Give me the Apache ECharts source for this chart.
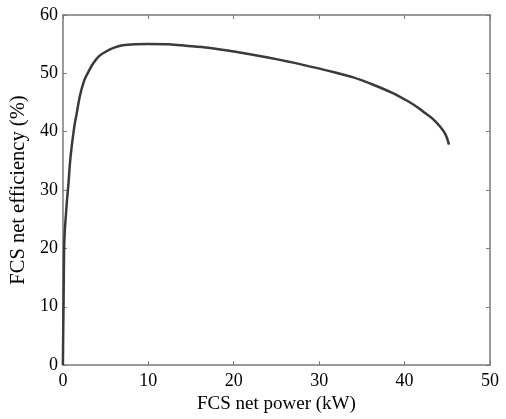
<!DOCTYPE html>
<html>
<head>
<meta charset="utf-8">
<script src="https://cdn.jsdelivr.net/npm/echarts@6/dist/echarts.min.js"></script>
<style>
  html, body { margin: 0; padding: 0; background: #fff; }
  #chart { width: 506px; height: 419px; }
</style>
</head>
<body>
<div id="chart"></div>
<script>
// Fuel cell system net power (kW) and the matching net efficiency (%)
const netPower = [0, 0.04, 0.08, 0.14, 0.22, 0.33, 0.48, 0.64, 0.85, 1.1, 1.35, 1.6, 2.0, 2.5, 3.0, 3.5, 4.2, 5.0, 6.0, 7.0, 8.4, 10, 12.4, 14.4, 17, 20.2, 24, 28, 32, 34, 36.4, 38.5, 40.3, 41.5, 42.3, 43.3, 44.2, 44.8, 45.2];
const netEfficiency = [0, 6, 11.3, 19.7, 23, 25.3, 28.3, 30.9, 35, 38.3, 41, 43, 46.2, 48.8, 50.3, 51.6, 52.9, 53.7, 54.4, 54.8, 55.0, 55.05, 55.0, 54.75, 54.4, 53.7, 52.7, 51.5, 50.1, 49.3, 48.0, 46.7, 45.3, 44.2, 43.3, 42.2, 40.8, 39.5, 37.8];

const xTicks = [0, 10, 20, 30, 40, 50];
const yTicks = [0, 10, 20, 30, 40, 50, 60];

const serif = 'Liberation Serif, Times New Roman, serif';
const frame = '#7a7a7a';

const chart = echarts.init(document.getElementById('chart'));

// every side of the box carries inward ticks; only bottom/left get labels
const boxAxis = (extra) => Object.assign({
  type: 'value',
  axisLine: { show: true, onZero: false, lineStyle: { color: frame, width: 1.5 } },
  axisTick: { show: true, inside: true, length: 4, lineStyle: { color: frame } },
  splitLine: { show: false },
  axisLabel: { show: false }
}, extra);

chart.setOption({
  animation: false,
  backgroundColor: '#fff',
  grid: { left: 59.5, right: 16, top: 15, bottom: 49.5, containLabel: false },
  xAxis: [
    boxAxis({
      position: 'bottom',
      min: xTicks[0], max: xTicks[xTicks.length - 1], interval: 10,
      name: 'FCS net power (kW)',
      nameLocation: 'middle',
      nameGap: 28,
      nameTextStyle: { fontFamily: serif, fontSize: 19, color: '#000' },
      axisLabel: { show: true, margin: 7, fontFamily: serif, fontSize: 18, color: '#000' }
    }),
    boxAxis({
      position: 'top',
      min: xTicks[0], max: xTicks[xTicks.length - 1], interval: 10
    })
  ],
  yAxis: [
    boxAxis({
      position: 'left',
      min: yTicks[0], max: yTicks[yTicks.length - 1], interval: 10,
      name: 'FCS net efficiency (%)',
      nameLocation: 'middle',
      nameGap: 27,
      nameTextStyle: { fontFamily: serif, fontSize: 20.5, color: '#000' },
      axisLabel: { show: true, margin: 5, fontFamily: serif, fontSize: 18, color: '#000' }
    }),
    boxAxis({
      position: 'right',
      min: yTicks[0], max: yTicks[yTicks.length - 1], interval: 10
    })
  ],
  series: [{
    type: 'line',
    xAxisIndex: 0,
    yAxisIndex: 0,
    data: netPower.map((p, i) => [p, netEfficiency[i]]),
    showSymbol: false,
    smooth: 0.3,
    lineStyle: { color: '#3a3a3a', width: 2.5 }
  }]
});
</script>
</body>
</html>
